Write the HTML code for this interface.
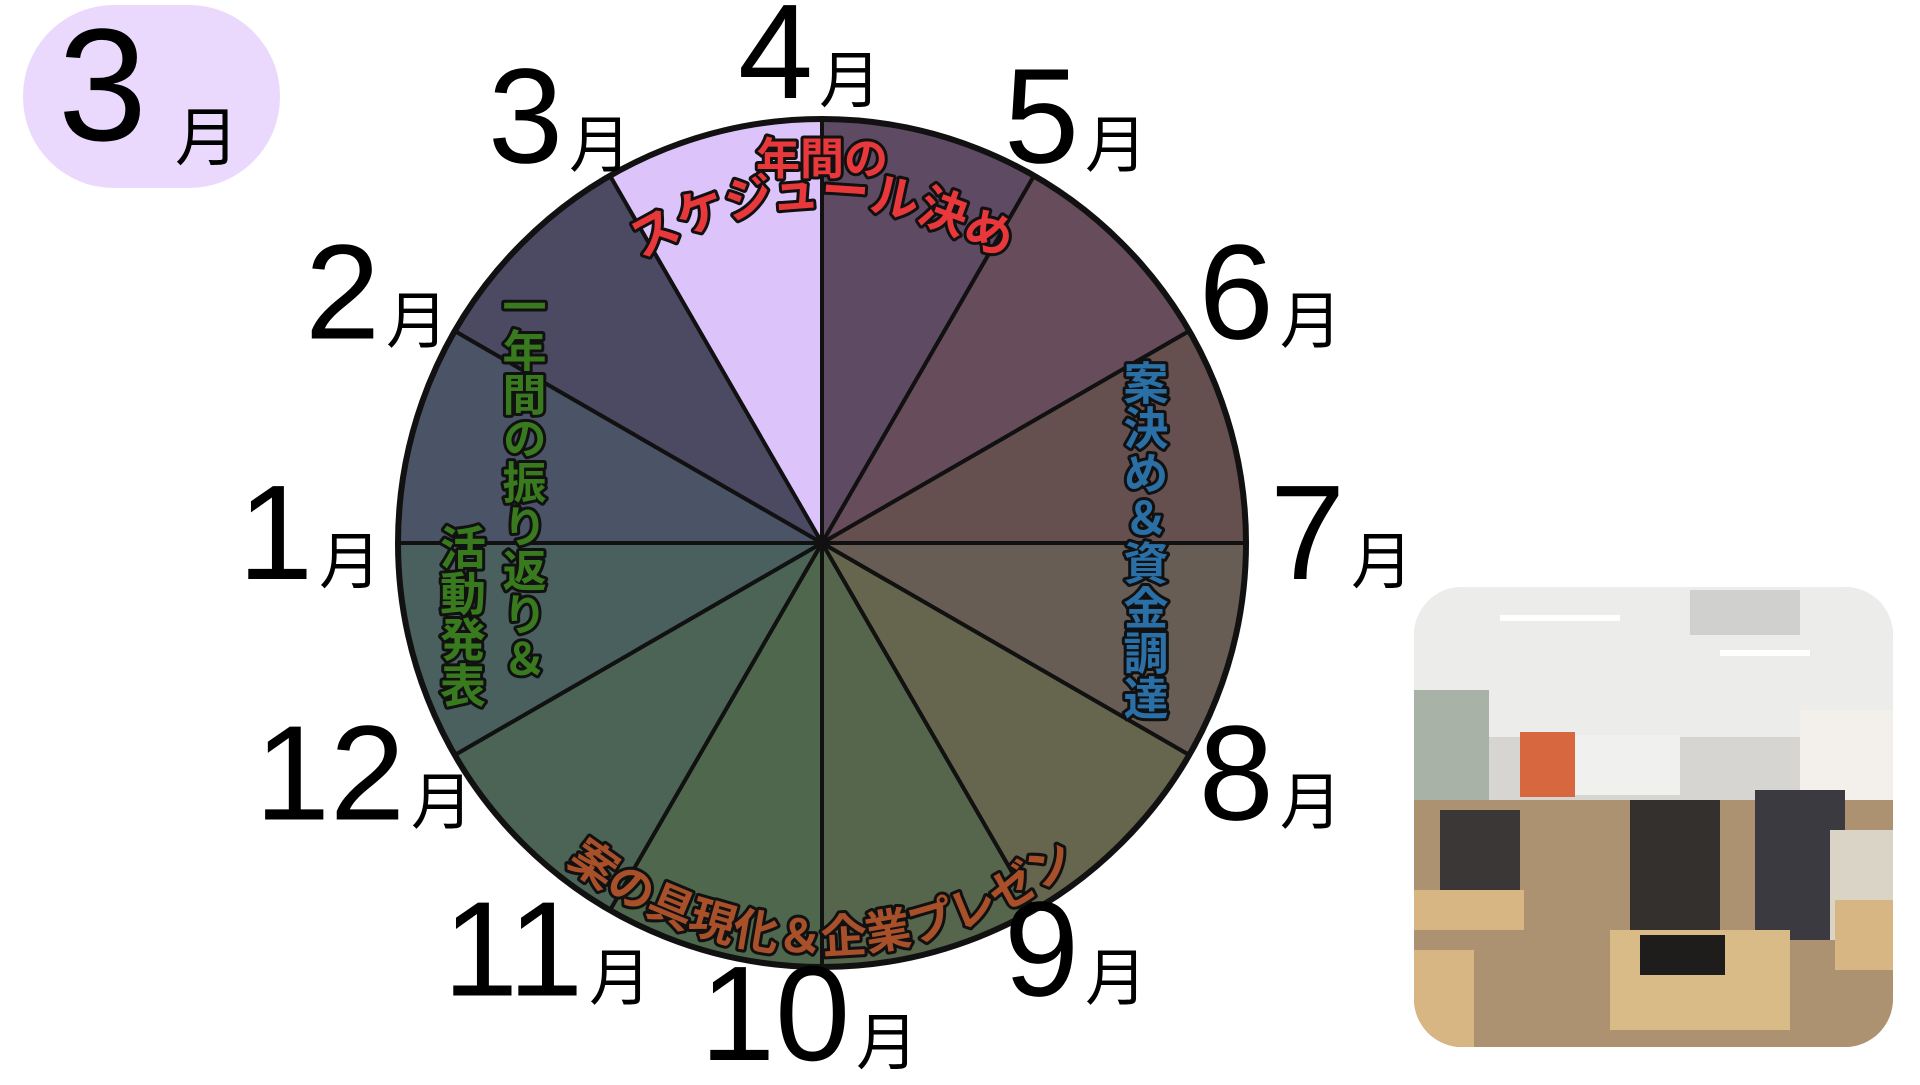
<!DOCTYPE html>
<html><head><meta charset="utf-8">
<style>
html,body{margin:0;padding:0;background:#fff;}
body{width:1920px;height:1080px;overflow:hidden;font-family:"Liberation Sans","Noto Sans CJK JP",sans-serif;}
svg text{font-family:"Liberation Sans","Noto Sans CJK JP",sans-serif;}
</style></head>
<body>
<svg id="chart" width="1920" height="1080" viewBox="0 0 1920 1080" xmlns="http://www.w3.org/2000/svg">
  <g>
    <rect x="23" y="5" width="257" height="183" rx="91" fill="#ead9fd"/>
    <text x="58" y="140" font-size="160" fill="#000">3</text>
    <text x="175" y="160" font-size="64" fill="#000">月</text>
  </g>
  <g id="slices"></g>
  <g id="labels"></g>
  <defs>
    <path id="arcTop" d="M 486 543 A 316 316 0 0 1 1158 543"/>
    <path id="arcBot" d="M 412 543 A 410 410 0 0 0 1232 543"/>
  </defs>
  <g font-weight="bold" stroke="#111" stroke-width="6" paint-order="stroke" stroke-linejoin="round">
    <text x="822" y="174" font-size="44" fill="#e8383b" text-anchor="middle">年間の</text>
    <text font-size="48" fill="#e8383b" text-anchor="middle"><textPath href="#arcTop" startOffset="50%">スケジュール決め</textPath></text>
    <text x="1142" y="360" font-size="45" fill="#2a6fa6" style="writing-mode:vertical-rl;">案決め＆資金調達</text>
    <text x="520" y="284" font-size="44" fill="#3a7a1e" style="writing-mode:vertical-rl;">一年間の振り返り＆</text>
    <text x="460" y="524" font-size="46" fill="#3a7a1e" style="writing-mode:vertical-rl;">活動発表</text>
    <text font-size="46" fill="#a8502a" text-anchor="middle"><textPath href="#arcBot" startOffset="50%">案の具現化＆企業プレゼン</textPath></text>
  </g>
  <g>
    <clipPath id="pc"><rect x="1414" y="587" width="479" height="460" rx="48"/></clipPath>
    <g clip-path="url(#pc)">
      <rect x="1414" y="587" width="479" height="460" fill="#d6d5d2"/>
      <rect x="1414" y="587" width="479" height="150" fill="#ececea"/>
      <rect x="1414" y="690" width="75" height="110" fill="#a9b2a6"/>
      <rect x="1530" y="735" width="150" height="60" fill="#f0f0ee"/>
      <rect x="1520" y="732" width="55" height="65" fill="#d7673f"/>
      <rect x="1800" y="710" width="93" height="120" fill="#f3efea"/>
      <rect x="1500" y="615" width="120" height="6" fill="#fff"/>
      <rect x="1720" y="650" width="90" height="6" fill="#fff"/>
      <rect x="1690" y="590" width="110" height="45" fill="#d0d0ce"/>
      <rect x="1414" y="800" width="479" height="247" fill="#ad9272"/>
      <rect x="1440" y="810" width="80" height="90" fill="#3a3736"/>
      <rect x="1630" y="800" width="90" height="160" fill="#33302e"/>
      <rect x="1755" y="790" width="90" height="150" fill="#3a3a40"/>
      <rect x="1830" y="830" width="63" height="110" fill="#dad4c6"/>
      <rect x="1414" y="890" width="110" height="40" fill="#d7b684"/>
      <rect x="1610" y="930" width="180" height="100" fill="#d9bb88"/>
      <rect x="1640" y="935" width="85" height="40" fill="#1f1d1c"/>
      <rect x="1835" y="900" width="58" height="70" fill="#d7b684"/>
      <rect x="1414" y="950" width="60" height="97" fill="#d7b684"/>
    </g>
  </g>
</svg>
<script>
const monthNames = ["3","4","5","6","7","8","9","10","11","12","1","2"];
const sliceColors = ["#dcc4fb","#5f4a63","#674d5b","#66504f","#675d55","#66654e","#56664c","#4e674d","#4b6455","#4a605f","#4b5466","#4c4a63"];
const boundaryLabels = ["4","5","6","7","8","9","10","11","12","1","2","3"];
const cx = 822, cy = 543, R = 424, LR = 500;
const ns = "http://www.w3.org/2000/svg";
function pt(deg, r){ const a = (deg-90)*Math.PI/180; return [cx + r*Math.cos(a), cy + r*Math.sin(a)]; }
const sg = document.getElementById('slices');
sliceColors.forEach((c,i)=>{
  const a0 = -30 + i*30, a1 = a0 + 30;
  const p0 = pt(a0,R), p1 = pt(a1,R);
  const p = document.createElementNS(ns,'path');
  p.setAttribute('d',`M${cx},${cy} L${p0[0]},${p0[1]} A${R},${R} 0 0 1 ${p1[0]},${p1[1]} Z`);
  p.setAttribute('fill',c);
  p.setAttribute('stroke','#111');
  p.setAttribute('stroke-width','4');
  
  
  sg.appendChild(p);
});
const rim = document.createElementNS(ns,'circle');
rim.setAttribute('cx',cx); rim.setAttribute('cy',cy); rim.setAttribute('r',R);
rim.setAttribute('fill','none'); rim.setAttribute('stroke','#111'); rim.setAttribute('stroke-width','6');


sg.appendChild(rim);
const lg = document.getElementById('labels');
boundaryLabels.forEach((m,i)=>{
  const ang = i*30;
  const s0 = Math.sin(ang*Math.PI/180);
  const p = pt(ang, LR);
  const off = m.length>1 ? (-122 - 14*Math.max(0,-s0)) : (-84 + 32*Math.max(0,s0));
  const t = document.createElementNS(ns,'text');
  t.setAttribute('x', p[0] + off);
  t.setAttribute('y', p[1] + 36 + 19*Math.cos(ang*Math.PI/180));
  t.setAttribute('font-size','135');
  t.setAttribute('fill','#000');
  
  
  t.textContent = m;
  const s = document.createElementNS(ns,'tspan');
  s.setAttribute('font-size','62');
  s.setAttribute('dx','6');
  s.setAttribute('dy','4');
  s.textContent = '月';
  t.appendChild(s);
  lg.appendChild(t);
});
</script>
</body></html>
